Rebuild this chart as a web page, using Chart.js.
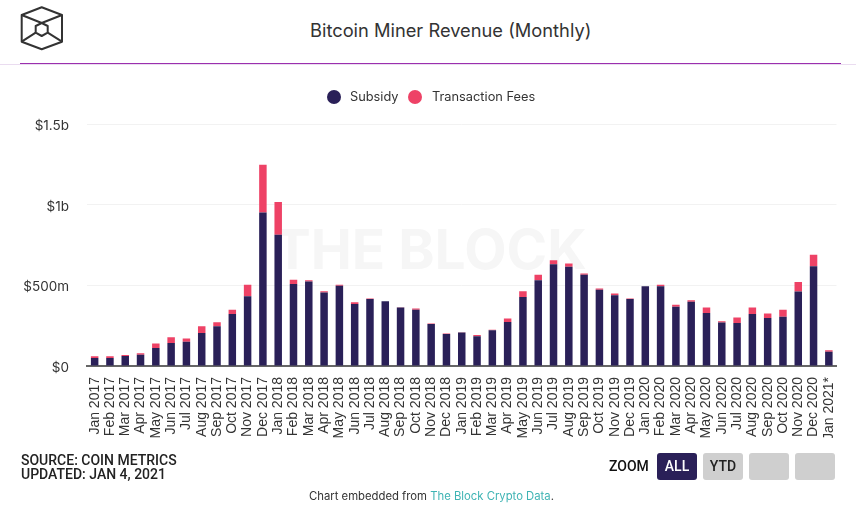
<!DOCTYPE html>
<html>
<head>
<meta charset="utf-8">
<script src="https://cdn.jsdelivr.net/npm/chart.js@4"></script>
<style>
    html, body { margin: 0; padding: 0; background: #fff; }
    #page { position: relative; width: 856px; height: 506px; overflow: hidden; font-family: Inter, sans-serif; color: #333; }
    #page > * { position: absolute; }
    #title { left: 310px; top: 17px; font-size: 18.3px; line-height: 26px; white-space: nowrap; color: #333; }
    #line1 { left: 0; top: 64px; width: 856px; height: 1px; background: #eadcf0; }
    #line2 { left: 20px; top: 63px; width: 821px; height: 1px; background: #9b2fae; }
    #mark { left: 274px; top: 219px; font-size: 55px; line-height: 60px; font-weight: 700; color: #f6f6f6; white-space: nowrap; }
    canvas { left: 0; top: 0; }
    .dot { top: 90px; width: 14px; height: 14px; border-radius: 50%; }
    .key { top: 89px; font-size: 12.8px; line-height: 16px; white-space: nowrap; color: #333; }
    #source { left: 21px; top: 453px; font-size: 14px; line-height: 14px; font-weight: 500; font-family: Roboto, sans-serif; color: #222; }
    #zoomlbl { left: 609px; top: 458px; font-size: 14px; font-weight: 500; font-family: Roboto, sans-serif; color: #111; }
    .btn { top: 453px; width: 40px; height: 27px; border-radius: 3px; background: #cfcfcf; text-align: center; font-size: 14px; line-height: 27px; font-weight: 500; font-family: Roboto, sans-serif; color: #222; }
    #all { left: 657px; background: #2a2058; color: #fff; }
    #ytd { left: 703px; }
    #b3 { left: 749px; }
    #b4 { left: 795px; }
    #embed { left: 309px; top: 489px; font-size: 11.3px; line-height: 14px; white-space: nowrap; color: #333; }
    #embed span { color: #3fb4b4; }
</style>
</head>
<body>
<div id="page">
    <svg style="left:0;top:0" width="80" height="60" viewBox="0 0 80 60" fill="none" stroke="#333" stroke-width="2" stroke-linejoin="round">
        <path d="M41.7 7.3 L62 15 L62 41.7 L41.7 49.3 L21.7 41.7 L21.7 15 Z"/>
        <path d="M41.7 23 L47.7 26 L47.7 32.7 L41.7 36 L35.7 32.7 L35.7 26 Z"/>
        <path d="M21.7 41.7 L35.7 32.7 M62 41.7 L47.7 32.7 M21.7 15 L41.7 23 L62 15"/>
    </svg>
    <div id="title">Bitcoin Miner Revenue (Monthly)</div>
    <div id="line1"></div>
    <div id="line2"></div>
    <div id="mark">THE BLOCK</div>
    <canvas id="myChart" width="856" height="506" style="position:absolute"></canvas>
    <div class="dot" id="dot0" style="left:327px"></div>
    <div class="key" id="key0" style="left:350px"></div>
    <div class="dot" id="dot1" style="left:408px"></div>
    <div class="key" id="key1" style="left:432px"></div>
    <div id="source">SOURCE: COIN METRICS<br>UPDATED: JAN 4, 2021</div>
    <div id="zoomlbl">ZOOM</div>
    <div class="btn" id="all">ALL</div>
    <div class="btn" id="ytd">YTD</div>
    <div class="btn" id="b3"></div>
    <div class="btn" id="b4"></div>
    <div id="embed">Chart embedded from <span>The Block Crypto Data</span>.</div>
</div>
<script>
    "use strict";
    var monthList = [
        "Jan 2017", "Feb 2017", "Mar 2017", "Apr 2017", "May 2017", "Jun 2017", "Jul 2017", "Aug 2017", "Sep 2017", "Oct 2017", "Nov 2017", "Dec 2017",
        "Jan 2018", "Feb 2018", "Mar 2018", "Apr 2018", "May 2018", "Jun 2018", "Jul 2018", "Aug 2018", "Sep 2018", "Oct 2018", "Nov 2018", "Dec 2018",
        "Jan 2019", "Feb 2019", "Mar 2019", "Apr 2019", "May 2019", "Jun 2019", "Jul 2019", "Aug 2019", "Sep 2019", "Oct 2019", "Nov 2019", "Dec 2019",
        "Jan 2020", "Feb 2020", "Mar 2020", "Apr 2020", "May 2020", "Jun 2020", "Jul 2020", "Aug 2020", "Sep 2020", "Oct 2020", "Nov 2020", "Dec 2020",
        "Jan 2021*"
    ];
    // values in $ millions
    var subsidyList = [
        50, 50, 62, 70, 112, 143, 151, 205, 246, 323, 433, 952,
        813, 509, 524, 455, 497, 385, 416, 402, 362, 348, 261, 199,
        207, 184, 221, 273, 428, 532, 631, 615, 565, 472, 439, 416,
        495, 495, 368, 399, 329, 269, 267, 323, 298, 306, 462, 619,
        89
    ];
    var feesList = [
        10, 10, 6, 9, 27, 35, 19, 41, 25, 25, 70, 296,
        203, 25, 8, 9, 6, 10, 2, 0, 2, 8, 2, 2,
        2, 8, 3, 21, 36, 33, 25, 20, 8, 8, 10, 2,
        0, 8, 11, 9, 33, 8, 33, 39, 27, 42, 58, 70,
        8
    ];
    var seriesNames = ["Subsidy", "Transaction Fees"];
    var seriesColors = ["#2a2058", "#ee4266"];
    var tickLabels = {0: "$0", 500: "$500m", 1000: "$1b", 1500: "$1.5b"};

    // legend sits in the page, dots have a wider gap than the built in one allows
    seriesNames.forEach(function (name, i) {
        document.getElementById("key" + i).textContent = name;
        document.getElementById("dot" + i).style.background = seriesColors[i];
    });

    var ctx = document.getElementById("myChart");
    new Chart(ctx, {
        type: "bar",
        data: {
            labels: monthList,
            datasets: [
                {label: seriesNames[0], data: subsidyList, backgroundColor: seriesColors[0]},
                {label: seriesNames[1], data: feesList, backgroundColor: seriesColors[1]},
            ],
        },
        options: {
            responsive: false,
            animation: false,
            devicePixelRatio: 1,
            layout: {
                padding: {left: 0, right: 19.5, top: 124, bottom: 68},
            },
            datasets: {
                bar: {barPercentage: 0.49, categoryPercentage: 1},
            },
            plugins: {
                legend: {display: false},
                tooltip: {enabled: false},
            },
            scales: {
                x: {
                    stacked: true,
                    afterFit: function (axis) { axis.height = 72; },
                    grid: {display: false},
                    border: {color: "#666", width: 2},
                    ticks: {
                        autoSkip: false,
                        minRotation: 90,
                        maxRotation: 90,
                        padding: 3,
                        color: "#333",
                        font: {family: "'Liberation Sans'", size: 14},
                    },
                },
                y: {
                    stacked: true,
                    min: 0,
                    max: 1500,
                    afterFit: function (axis) { axis.width = 87; },
                    grid: {color: "#f2f2f2", drawTicks: false},
                    border: {display: false},
                    ticks: {
                        stepSize: 500,
                        padding: 18,
                        labelOffset: 2,
                        color: "#333",
                        font: {family: "Inter", size: 13.5},
                        callback: function (value) { return tickLabels[value]; },
                    },
                },
            },
        },
    });
</script>
</body>
</html>
